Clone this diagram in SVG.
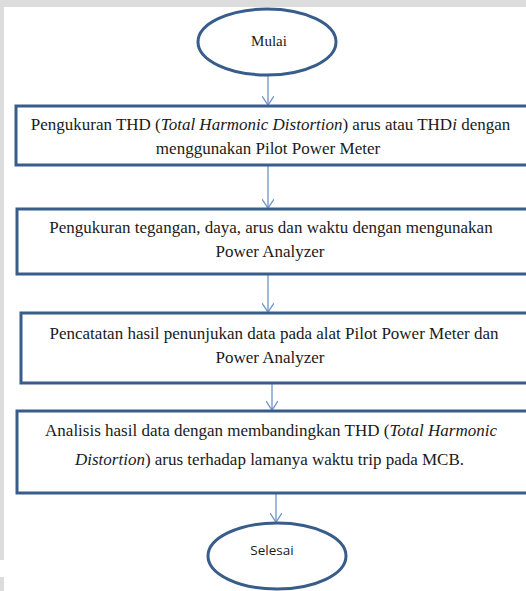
<svg xmlns="http://www.w3.org/2000/svg" width="526" height="591" viewBox="0 0 526 591">
<style>
.box{fill:#fff;stroke:#385d8a;stroke-width:3}
.term{fill:#fff;stroke:#385d8a;stroke-width:3}
.t{font-size:17px;fill:#1a1a1a;text-anchor:middle}
.s{font-size:13.5px;fill:#1a1a1a;text-anchor:middle}
.c{stroke:#6d94c8;stroke-width:1.3;fill:none}
</style>
<defs>
<marker id="ah" markerWidth="12" markerHeight="12" refX="10" refY="6" orient="auto" markerUnits="userSpaceOnUse">
<path d="M1,0 L10,6 L1,12" fill="none" stroke="#6d94c8" stroke-width="1.3"/>
</marker>
</defs>
<rect x="0" y="0" width="526" height="591" fill="#dcdcdc"/>
<rect x="4" y="7" width="522" height="584" fill="#fff"/>
<rect x="0" y="560" width="4" height="17" fill="#fff"/>
<g id="connectors">
<line class="c" x1="268" y1="76" x2="268" y2="105" marker-end="url(#ah)"/>
<line class="c" x1="268" y1="166" x2="268" y2="208" marker-end="url(#ah)"/>
<line class="c" x1="268" y1="275" x2="268" y2="312" marker-end="url(#ah)"/>
<line class="c" x1="272" y1="384" x2="272" y2="410" marker-end="url(#ah)"/>
<line class="c" x1="276" y1="494" x2="276" y2="522" marker-end="url(#ah)"/>
</g>
<g id="mulai">
<ellipse class="term" cx="267" cy="42" rx="69" ry="33"/>
<text class="t" font-family="Liberation Serif, serif" x="269" y="46" style="font-size:15px">Mulai</text>
</g>
<g id="step1" font-family="Liberation Serif, serif">
<rect class="box" x="16" y="106" width="520" height="59"/>
<text class="t" x="270.5" y="130">Pengukuran THD (<tspan font-style="italic">Total Harmonic Distortion</tspan>) arus atau THD<tspan font-style="italic">i</tspan> dengan</text>
<text class="t" x="268" y="154">menggunakan Pilot Power Meter</text>
</g>
<g id="step2" font-family="Liberation Serif, serif">
<rect class="box" x="17" y="209" width="520" height="65"/>
<text class="t" x="271" y="233">Pengukuran tegangan, daya, arus dan waktu dengan mengunakan</text>
<text class="t" x="270" y="257">Power Analyzer</text>
</g>
<g id="step3" font-family="Liberation Serif, serif">
<rect class="box" x="21" y="313" width="520" height="70"/>
<text class="t" x="274" y="339">Pencatatan hasil penunjukan data pada alat Pilot Power Meter dan</text>
<text class="t" x="270" y="363">Power Analyzer</text>
</g>
<g id="step4" font-family="Liberation Serif, serif">
<rect class="box" x="17" y="411" width="520" height="82"/>
<text class="t" x="271" y="436">Analisis hasil data dengan membandingkan THD (<tspan font-style="italic">Total Harmonic</tspan></text>
<text class="t" x="269.5" y="465"><tspan font-style="italic">Distortion</tspan>) arus terhadap lamanya waktu trip pada MCB.</text>
</g>
<g id="selesai" font-family="Open Sans, Liberation Sans, sans-serif">
<ellipse class="term" cx="277" cy="556" rx="69" ry="33"/>
<text class="s" x="272" y="555">Selesai</text>
</g>
</svg>
